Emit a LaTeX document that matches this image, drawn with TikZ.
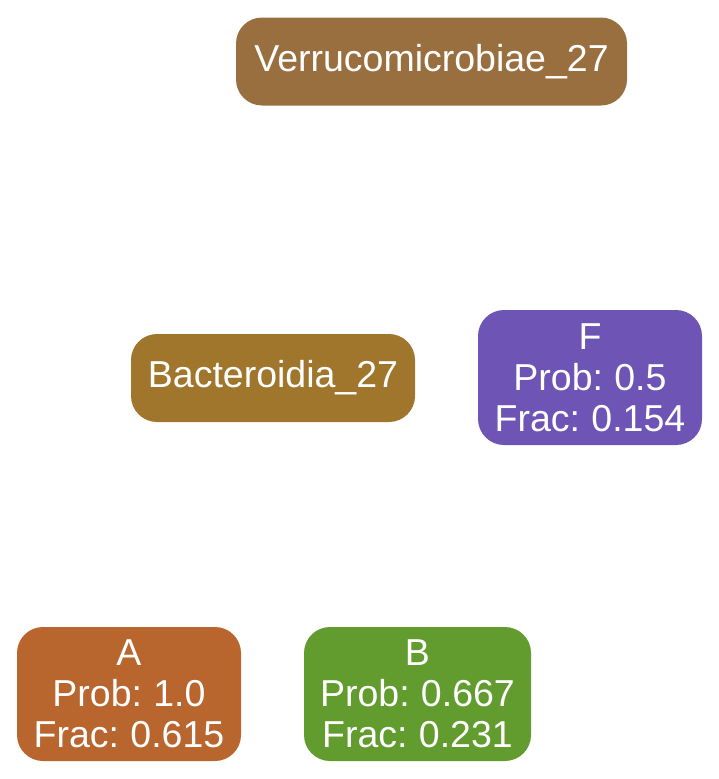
\documentclass[tikz,border=0pt]{standalone}
\usepackage{fontspec}
\setmainfont[WordSpace=0.75]{Liberation Sans}
\definecolor{cverr}{HTML}{9A6F40}
\definecolor{cbact}{HTML}{A0752C}
\definecolor{cF}{HTML}{6E55B5}
\definecolor{cA}{HTML}{B8652E}
\definecolor{cB}{HTML}{629C2E}
\begin{document}
\begin{tikzpicture}[x=1pt,y=-1pt,
  box/.style={rounded corners=26pt, inner sep=0pt, text=white, align=center,
    font=\fontsize{37.5}{41}\selectfont, minimum height=88pt}]
\useasboundingbox (0,0) rectangle (719,779);
\node[box, fill=cverr, minimum width=391pt] (verr) at (431.5,61.5) {Verrucomicrobiae\_27};
\node[box, fill=cbact, minimum width=284pt] (bact) at (273,378) {Bacteroidia\_27};
\node[box, fill=cF, minimum width=224pt, minimum height=135pt] (F) at (590,377.5) {F\\Prob: 0.5\\Frac: 0.154};
\node[box, fill=cA, minimum width=224pt, minimum height=134pt] (A) at (129,694) {A\\Prob: 1.0\\Frac: 0.615};
\node[box, fill=cB, minimum width=227pt, minimum height=134pt] (B) at (417.5,694) {B\\Prob: 0.667\\Frac: 0.231};
\end{tikzpicture}
\end{document}
